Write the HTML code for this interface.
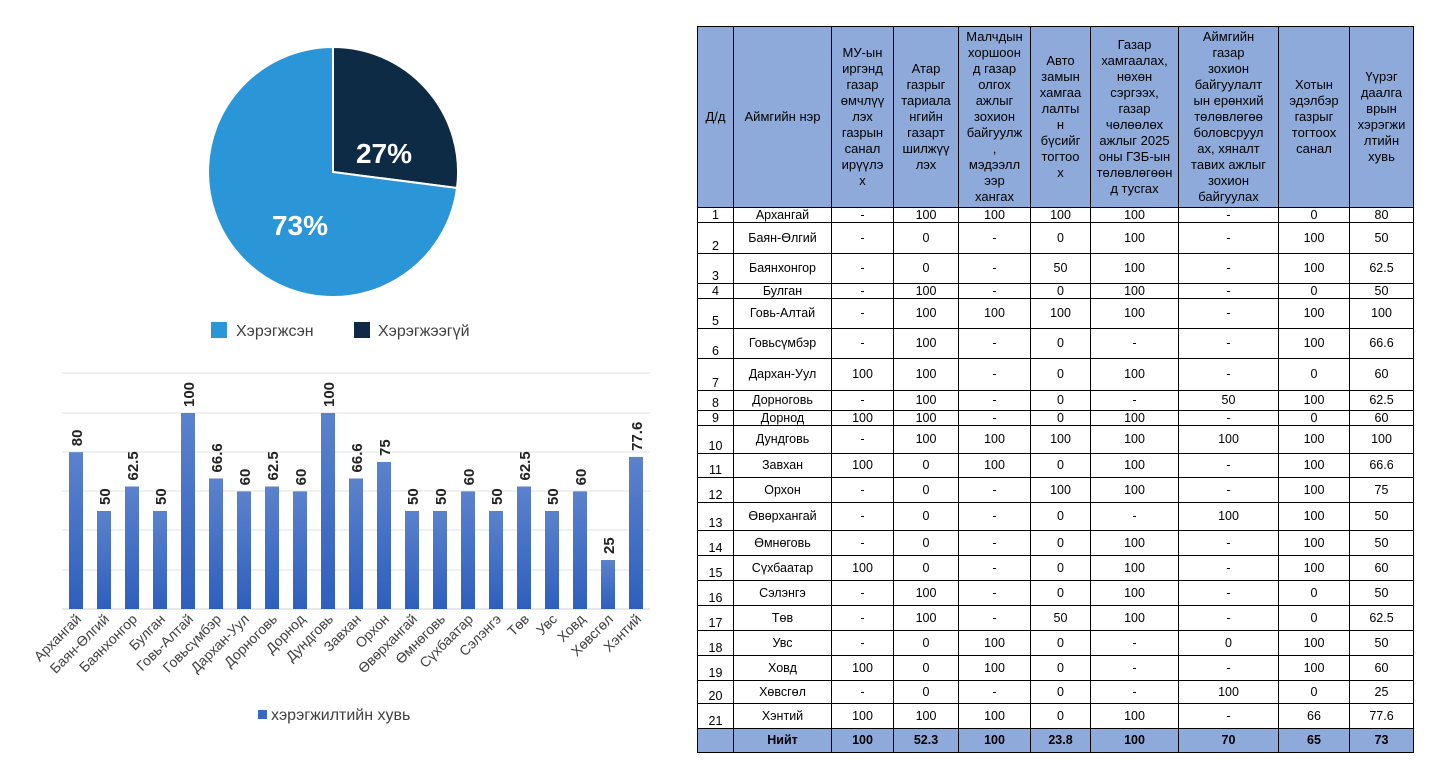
<!DOCTYPE html>
<html><head><meta charset="utf-8"><style>
body{margin:0;width:1447px;height:780px;background:#fff;position:relative;overflow:hidden;font-family:"Liberation Sans",Arial,sans-serif}
svg{position:absolute;left:0;top:0}
table{position:absolute;left:697px;top:26px;width:716px;border-collapse:collapse;table-layout:fixed;font-size:12.5px;color:#000}
td{border:1px solid #000;text-align:center;padding:0;line-height:13px;vertical-align:middle;overflow:hidden}
td:first-child{vertical-align:bottom}
thead td{background:#8eaadb;vertical-align:middle!important;line-height:16px;white-space:nowrap;font-size:13px}
tr.t td{background:#8eaadb;font-weight:bold;vertical-align:middle}
</style></head><body>
<svg width="690" height="780" viewBox="0 0 690 780">
<path d="M333,172 L333,47 A125,125 0 0 1 457,188 Z" fill="#0d2b45" stroke="#fff" stroke-width="2"/>
<path d="M333,172 L457,188 A125,125 0 1 1 333,47 Z" fill="#2a96d8" stroke="#fff" stroke-width="2"/>
<text x="384" y="163" fill="#fff" font-size="28" font-weight="bold" text-anchor="middle">27%</text>
<text x="300" y="235" fill="#fff" font-size="28" font-weight="bold" text-anchor="middle">73%</text>
<rect x="211" y="322" width="16" height="16" fill="#2a96d8"/>
<text x="236" y="336" font-size="16" fill="#404040">Хэрэгжсэн</text>
<rect x="354" y="322" width="16" height="16" fill="#0d2b45"/>
<text x="378" y="336" font-size="16" fill="#404040">Хэрэгжээгүй</text>
<defs><linearGradient id="g" x1="0" y1="0" x2="0" y2="1"><stop offset="0" stop-color="#5b82cc"/><stop offset="1" stop-color="#2f5fbd"/></linearGradient></defs>
<g stroke="#e0e0e0" stroke-width="1">
<line x1="62" x2="650" y1="373" y2="373"/><line x1="62" x2="650" y1="413" y2="413"/><line x1="62" x2="650" y1="452" y2="452"/><line x1="62" x2="650" y1="491" y2="491"/><line x1="62" x2="650" y1="530" y2="530"/><line x1="62" x2="650" y1="570" y2="570"/><line x1="62" x2="650" y1="609" y2="609" stroke="#d0d0d0"/>
</g>
<g id="bars"></g>
<rect x="258" y="710" width="9" height="9" fill="#3a66c4"/>
<text x="271" y="720" font-size="16" fill="#404040">хэрэгжилтийн хувь</text>
</svg>
<script>
var d=[["Архангай",80],["Баян-Өлгий",50],["Баянхонгор",62.5],["Булган",50],["Говь-Алтай",100],["Говьсүмбэр",66.6],["Дархан-Уул",60],["Дорноговь",62.5],["Дорнод",60],["Дундговь",100],["Завхан",66.6],["Орхон",75],["Өвөрхангай",50],["Өмнөговь",50],["Сүхбаатар",60],["Сэлэнгэ",50],["Төв",62.5],["Увс",50],["Ховд",60],["Хөвсгөл",25],["Хэнтий",77.6]];
var s="";d.forEach(function(r,i){var cx=76+i*28,h=r[1]*1.96,y=609-h;
s+='<rect x="'+(cx-7)+'" y="'+y+'" width="14" height="'+h+'" fill="url(#g)"/>';
s+='<text transform="translate('+(cx+6)+','+(y-6)+') rotate(-90)" font-size="15" font-weight="bold" fill="#222">'+r[1]+'</text>';
s+='<text transform="translate('+(cx+6)+',620) rotate(-45)" font-size="14" fill="#404040" text-anchor="end">'+r[0]+'</text>';});
document.getElementById("bars").innerHTML=s;
</script>
<table>
<colgroup><col style="width:36px"><col style="width:98px"><col style="width:62px"><col style="width:65px"><col style="width:72px"><col style="width:60px"><col style="width:88px"><col style="width:100px"><col style="width:71px"><col style="width:64px"></colgroup>
<thead><tr style="height:181px"><td>Д/д</td><td>Аймгийн нэр</td>
<td>МУ-ын<br>иргэнд<br>газар<br>өмчлүү<br>лэх<br>газрын<br>санал<br>ирүүлэ<br>х</td>
<td>Атар<br>газрыг<br>тариала<br>нгийн<br>газарт<br>шилжүү<br>лэх</td>
<td>Малчдын<br>хоршоон<br>д газар<br>олгох<br>ажлыг<br>зохион<br>байгуулж<br>,<br>мэдээлл<br>ээр<br>хангах</td>
<td>Авто<br>замын<br>хамгаа<br>лалты<br>н<br>бүсийг<br>тогтоо<br>х</td>
<td>Газар<br>хамгаалах,<br>нөхөн<br>сэргээх,<br>газар<br>чөлөөлөх<br>ажлыг 2025<br>оны ГЗБ-ын<br>төлөвлөгөөн<br>д тусгах</td>
<td>Аймгийн<br>газар<br>зохион<br>байгуулалт<br>ын ерөнхий<br>төлөвлөгөө<br>боловсруул<br>ах, хяналт<br>тавих ажлыг<br>зохион<br>байгуулах</td>
<td>Хотын<br>эдэлбэр<br>газрыг<br>тогтоох<br>санал</td>
<td>Үүрэг<br>даалга<br>врын<br>хэрэгжи<br>лтийн<br>хувь</td></tr></thead>
<tbody>
<tr style="height:15px"><td>1</td><td>Архангай</td><td>-</td><td>100</td><td>100</td><td>100</td><td>100</td><td>-</td><td>0</td><td>80</td></tr>
<tr style="height:31px"><td>2</td><td>Баян-Өлгий</td><td>-</td><td>0</td><td>-</td><td>0</td><td>100</td><td>-</td><td>100</td><td>50</td></tr>
<tr style="height:30px"><td>3</td><td>Баянхонгор</td><td>-</td><td>0</td><td>-</td><td>50</td><td>100</td><td>-</td><td>100</td><td>62.5</td></tr>
<tr style="height:15px"><td>4</td><td>Булган</td><td>-</td><td>100</td><td>-</td><td>0</td><td>100</td><td>-</td><td>0</td><td>50</td></tr>
<tr style="height:30px"><td>5</td><td>Говь-Алтай</td><td>-</td><td>100</td><td>100</td><td>100</td><td>100</td><td>-</td><td>100</td><td>100</td></tr>
<tr style="height:30px"><td>6</td><td>Говьсүмбэр</td><td>-</td><td>100</td><td>-</td><td>0</td><td>-</td><td>-</td><td>100</td><td>66.6</td></tr>
<tr style="height:32px"><td>7</td><td>Дархан-Уул</td><td>100</td><td>100</td><td>-</td><td>0</td><td>100</td><td>-</td><td>0</td><td>60</td></tr>
<tr style="height:20px"><td>8</td><td>Дорноговь</td><td>-</td><td>100</td><td>-</td><td>0</td><td>-</td><td>50</td><td>100</td><td>62.5</td></tr>
<tr style="height:15px"><td>9</td><td>Дорнод</td><td>100</td><td>100</td><td>-</td><td>0</td><td>100</td><td>-</td><td>0</td><td>60</td></tr>
<tr style="height:28px"><td>10</td><td>Дундговь</td><td>-</td><td>100</td><td>100</td><td>100</td><td>100</td><td>100</td><td>100</td><td>100</td></tr>
<tr style="height:24px"><td>11</td><td>Завхан</td><td>100</td><td>0</td><td>100</td><td>0</td><td>100</td><td>-</td><td>100</td><td>66.6</td></tr>
<tr style="height:25px"><td>12</td><td>Орхон</td><td>-</td><td>0</td><td>-</td><td>100</td><td>100</td><td>-</td><td>100</td><td>75</td></tr>
<tr style="height:28px"><td>13</td><td>Өвөрхангай</td><td>-</td><td>0</td><td>-</td><td>0</td><td>-</td><td>100</td><td>100</td><td>50</td></tr>
<tr style="height:25px"><td>14</td><td>Өмнөговь</td><td>-</td><td>0</td><td>-</td><td>0</td><td>100</td><td>-</td><td>100</td><td>50</td></tr>
<tr style="height:25px"><td>15</td><td>Сүхбаатар</td><td>100</td><td>0</td><td>-</td><td>0</td><td>100</td><td>-</td><td>100</td><td>60</td></tr>
<tr style="height:25px"><td>16</td><td>Сэлэнгэ</td><td>-</td><td>100</td><td>-</td><td>0</td><td>100</td><td>-</td><td>0</td><td>50</td></tr>
<tr style="height:25px"><td>17</td><td>Төв</td><td>-</td><td>100</td><td>-</td><td>50</td><td>100</td><td>-</td><td>0</td><td>62.5</td></tr>
<tr style="height:25px"><td>18</td><td>Увс</td><td>-</td><td>0</td><td>100</td><td>0</td><td>-</td><td>0</td><td>100</td><td>50</td></tr>
<tr style="height:25px"><td>19</td><td>Ховд</td><td>100</td><td>0</td><td>100</td><td>0</td><td>-</td><td>-</td><td>100</td><td>60</td></tr>
<tr style="height:23px"><td>20</td><td>Хөвсгөл</td><td>-</td><td>0</td><td>-</td><td>0</td><td>-</td><td>100</td><td>0</td><td>25</td></tr>
<tr style="height:25px"><td>21</td><td>Хэнтий</td><td>100</td><td>100</td><td>100</td><td>0</td><td>100</td><td>-</td><td>66</td><td>77.6</td></tr>
<tr class="t" style="height:24px"><td></td><td>Нийт</td><td>100</td><td>52.3</td><td>100</td><td>23.8</td><td>100</td><td>70</td><td>65</td><td>73</td></tr>
</tbody></table>
</body></html>
